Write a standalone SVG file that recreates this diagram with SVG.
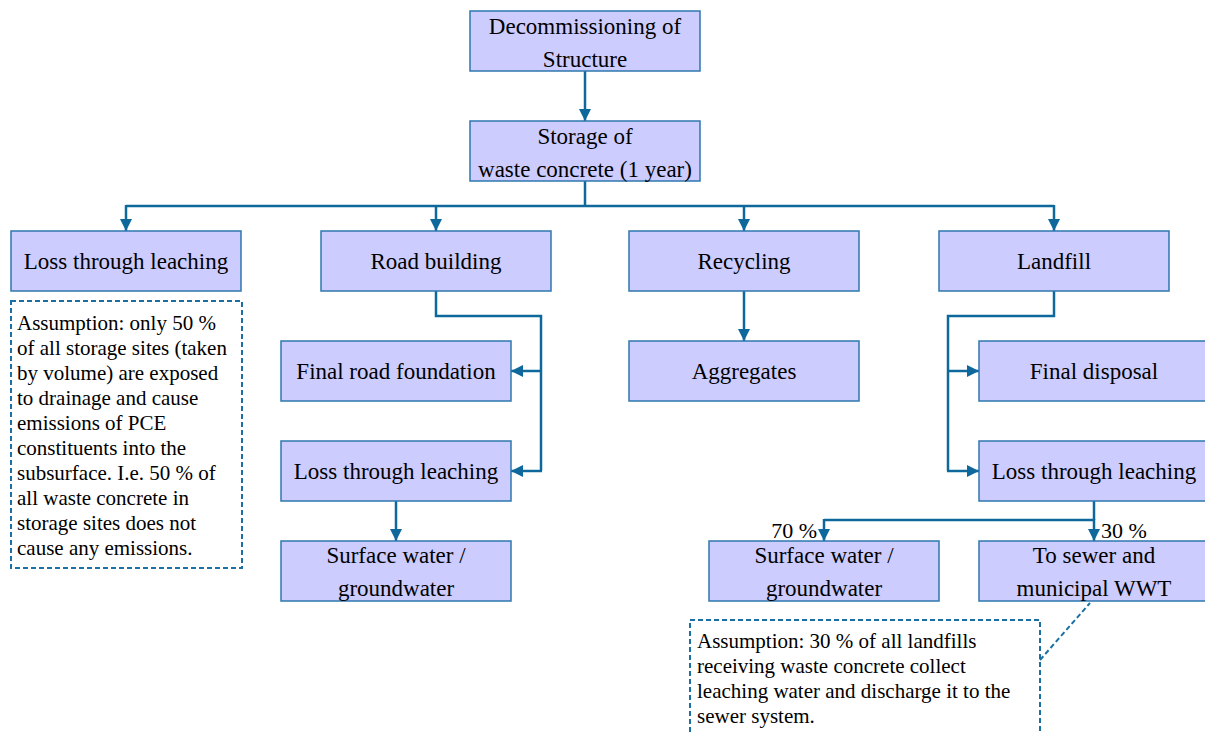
<svg xmlns="http://www.w3.org/2000/svg" width="1205" height="733" viewBox="0 0 1205 733">
<style>
.box{fill:#CCCCFF;stroke:#2E78AE;stroke-width:1.5}
.t{font-family:"Liberation Serif","Times New Roman",serif;font-size:23px;fill:#000;text-anchor:middle}
.p{font-family:"Liberation Serif","Times New Roman",serif;font-size:22px;fill:#000}
.n{font-family:"Liberation Serif","Times New Roman",serif;font-size:21px;fill:#000}
.c{fill:none;stroke:#0E689C;stroke-width:2.5}
.d{fill:none;stroke:#1A6FA3;stroke-width:2;stroke-dasharray:5,3}
</style>
<defs>
<marker id="ah" viewBox="0 0 10 10" refX="10" refY="5" markerWidth="4.8" markerHeight="4.8" orient="auto" markerUnits="strokeWidth">
<path d="M0,0 L10,5 L0,10 z" fill="#0E689C"/>
</marker>
</defs>
<rect width="1205" height="733" fill="#fff"/>
<g id="connectors">
<line class="c" x1="585" y1="71" x2="585" y2="121" marker-end="url(#ah)"/>
<polyline class="c" points="585,181 585,206"/>
<polyline class="c" points="126,206 1054,206"/>
<line class="c" x1="126" y1="205" x2="126" y2="231" marker-end="url(#ah)"/>
<line class="c" x1="436" y1="205" x2="436" y2="231" marker-end="url(#ah)"/>
<line class="c" x1="744" y1="205" x2="744" y2="231" marker-end="url(#ah)"/>
<line class="c" x1="1054" y1="205" x2="1054" y2="231" marker-end="url(#ah)"/>
<polyline class="c" points="436,291 436,316 541,316 541,471"/>
<line class="c" x1="542" y1="371" x2="511" y2="371" marker-end="url(#ah)"/>
<line class="c" x1="542" y1="471" x2="511" y2="471" marker-end="url(#ah)"/>
<line class="c" x1="396" y1="501" x2="396" y2="541" marker-end="url(#ah)"/>
<line class="c" x1="744" y1="291" x2="744" y2="341" marker-end="url(#ah)"/>
<polyline class="c" points="1054,291 1054,316 948,316 948,471"/>
<line class="c" x1="947" y1="371" x2="979" y2="371" marker-end="url(#ah)"/>
<line class="c" x1="947" y1="471" x2="979" y2="471" marker-end="url(#ah)"/>
<polyline class="c" points="1094,501 1094,520"/>
<polyline class="c" points="824,520 1094,520"/>
<line class="c" x1="824" y1="519" x2="824" y2="541" marker-end="url(#ah)"/>
<line class="c" x1="1094" y1="519" x2="1094" y2="541" marker-end="url(#ah)"/>
<line class="d" x1="1040" y1="660" x2="1090" y2="603"/>
</g>
<g id="decommissioning"><rect class="box" x="470" y="11" width="230" height="60"/><text class="t" x="585" y="34">Decommissioning of</text><text class="t" x="585" y="67">Structure</text></g>
<g id="storage"><rect class="box" x="470" y="121" width="230" height="60"/><text class="t" x="585" y="144">Storage of</text><text class="t" x="585" y="177">waste concrete (1 year)</text></g>
<g id="loss1"><rect class="box" x="11" y="231" width="230" height="60"/><text class="t" x="126" y="269">Loss through leaching</text></g>
<g id="road"><rect class="box" x="321" y="231" width="230" height="60"/><text class="t" x="436" y="269">Road building</text></g>
<g id="recycling"><rect class="box" x="629" y="231" width="230" height="60"/><text class="t" x="744" y="269">Recycling</text></g>
<g id="landfill"><rect class="box" x="939" y="231" width="230" height="60"/><text class="t" x="1054" y="269">Landfill</text></g>
<g id="foundation"><rect class="box" x="281" y="341" width="230" height="60"/><text class="t" x="396" y="379">Final road foundation</text></g>
<g id="aggregates"><rect class="box" x="629" y="341" width="230" height="60"/><text class="t" x="744" y="379">Aggregates</text></g>
<g id="disposal"><rect class="box" x="979" y="341" width="230" height="60"/><text class="t" x="1094" y="379">Final disposal</text></g>
<g id="loss2"><rect class="box" x="281" y="441" width="230" height="60"/><text class="t" x="396" y="479">Loss through leaching</text></g>
<g id="loss3"><rect class="box" x="979" y="441" width="230" height="60"/><text class="t" x="1094" y="479">Loss through leaching</text></g>
<g id="surface1"><rect class="box" x="281" y="541" width="230" height="60"/><text class="t" x="396" y="563">Surface water /</text><text class="t" x="396" y="596">groundwater</text></g>
<g id="surface2"><rect class="box" x="709" y="541" width="230" height="60"/><text class="t" x="824" y="563">Surface water /</text><text class="t" x="824" y="596">groundwater</text></g>
<g id="sewer"><rect class="box" x="979" y="541" width="230" height="60"/><text class="t" x="1094" y="563">To sewer and</text><text class="t" x="1094" y="596">municipal WWT</text></g>
<g id="labels">
<text class="p" x="817" y="538" text-anchor="end">70 %</text>
<text class="p" x="1101" y="538">30 %</text>
</g>
<g id="note1"><rect class="d" x="11" y="301" width="231" height="267"/>
<text class="n" x="17" y="330">Assumption: only 50 %</text>
<text class="n" x="17" y="355">of all storage sites (taken</text>
<text class="n" x="17" y="380">by volume) are exposed</text>
<text class="n" x="17" y="405">to drainage and cause</text>
<text class="n" x="17" y="430">emissions of PCE</text>
<text class="n" x="17" y="455">constituents into the</text>
<text class="n" x="17" y="480">subsurface. I.e. 50 % of</text>
<text class="n" x="17" y="505">all waste concrete in</text>
<text class="n" x="17" y="530">storage sites does not</text>
<text class="n" x="17" y="555">cause any emissions.</text>
</g>
<g id="note2"><rect class="d" x="690" y="620" width="350" height="130"/>
<text class="n" x="697" y="648">Assumption: 30 % of all landfills</text>
<text class="n" x="697" y="673">receiving waste concrete collect</text>
<text class="n" x="697" y="698">leaching water and discharge it to the</text>
<text class="n" x="697" y="723">sewer system.</text>
</g>
</svg>
